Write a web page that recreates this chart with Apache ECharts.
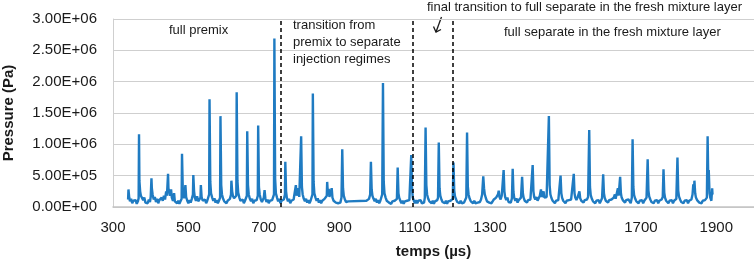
<!DOCTYPE html>
<html>
<head>
<meta charset="utf-8">
<script src="https://cdn.jsdelivr.net/npm/echarts@6/dist/echarts.min.js"></script>
<style>
  html, body { margin: 0; padding: 0; background: #fff; }
  #chart { width: 754px; height: 265px; }
</style>
</head>
<body>
<div id="chart"></div>
<script>
// pressure trace, [time (µs), pressure (kPa)]
const premix = [
  [340,120],[341,280],[343,150],[345,90],[348,130],[351,60],[354,100],[357,70],[360,110],[363,50],[366,90],[368,140],
  [369,1160],[370,420],[372,250],[374,180],[377,200],[380,110],[383,150],[386,70],[389,100],[392,60],[395,120],[398,80],
  [400,160],[402,460],[403,300],[405,200],[408,120],[411,160],[414,80],[417,130],[420,60],[423,110],[426,90],[429,150],
  [432,100],[435,180],[438,120],[441,250],[443,180],[446,530],[447,300],[449,250],[451,180],[454,280],[456,150],[459,100],
  [462,220],[464,90],[467,120],[470,60],[473,100],[476,50],[479,90],[482,130],[483,850],[485,300],[487,180],[489,140],
  [492,350],[494,160],[497,100],[500,60],[503,110],[506,70],[509,130],[512,200],[513,510],[515,250],[517,150],[520,100],
  [523,170],[526,90],[529,120],[532,150],[533,350],[535,160],[538,100],[541,70],[544,120],[547,60],[550,100],[553,80],
  [555,200],[556,1720],[558,400],[560,220],[563,150],[566,100],[569,140],[572,70],[575,110],[578,60],[581,100],[584,150],
  [585,1450],[587,350],[589,200],[592,130],[595,90],[598,120],[601,60],[604,100],[607,70],[610,130],[613,200],[614,420],
  [616,250],[618,180],[621,140],[624,110],[627,180],[628,1830],[630,420],[632,230],[635,150],[638,100],[641,70],[644,120],
  [647,60],[650,100],[653,80],[655,180],[656,1210],[658,350],[660,200],[663,130],[666,90],[669,130],[672,60],[675,100],
  [678,70],[681,110],[684,180],[685,1300],[687,320],[689,200],[692,120],[695,80],[698,110],[700,150],[702,270],[704,140],
  [707,80],[710,120],[713,60],[716,100],[719,70],[722,110],[725,80],[727,200],[728,2690],[730,450],[732,220],[735,150],
  [738,90],[741,130],[744,60]
];
const transition = [
  [747,100],[750,70],[753,120],[756,200],[757,720],[759,250],[761,150],[764,90],[767,130],[770,60],[773,100],[776,70],
  [779,120],[782,150],[785,350],[787,180],[789,150],[792,300],[794,160],[797,180],[799,1130],[801,320],[803,200],[806,130],
  [809,90],[812,130],[815,70],[818,110],[821,60],[824,100],[827,80],[829,200],[830,1810],[832,400],[834,220],[837,150],
  [840,100],[843,140],[846,70],[849,110],[852,60],[855,100],[858,80],[861,130],[864,110],[867,180],[868,400],[870,200],
  [872,290],[874,160],[877,130],[880,300],[882,150],[885,100],[888,130],[891,70],[894,100],[897,60],[900,90],[903,70],
  [906,150],[908,920],[910,300],[912,180],[915,120],[918,80],[921,60],[924,90],[972,100],[976,100],[979,130],[982,200],
  [984,720],[986,280],[988,180],[991,130],[994,90],[997,130],[1000,70],[1003,110],[1006,60],[1009,100],[1012,80],[1014,200],
  [1016,1980],[1018,400],[1020,220],[1023,150],[1026,100],[1029,130],[1032,70],[1035,100],[1038,50],[1041,90],[1044,60],
  [1047,100],[1050,70],[1053,130],[1055,630],[1057,220],[1059,150],[1062,100],[1065,60],[1068,100],[1071,50],[1074,90],
  [1077,60],[1080,100],[1083,70],[1086,110],[1089,130],[1091,830],[1093,300],[1095,150]
];
const finalTransition = [
  [1098,100],[1101,60],[1104,110],[1107,60],[1110,100],[1113,70],[1116,110],[1119,60],[1122,90],[1125,70],[1127,150],
  [1129,1270],[1131,350],[1133,200],[1136,130],[1139,90],[1142,110],[1145,60],[1148,100],[1151,50],[1154,90],[1157,60],
  [1160,110],[1162,150],[1164,1030],[1166,300],[1168,180],[1171,120],[1174,80],[1177,110],[1180,60],[1183,100],[1186,50],
  [1189,90],[1192,60],[1195,100],[1198,70]
];
const separate = [
  [1201,130],[1203,710],[1205,260],[1207,170],[1210,120],[1213,80],[1216,110],[1219,60],[1222,100],[1225,60],[1228,90],
  [1231,70],[1234,110],[1237,150],[1239,1190],[1241,330],[1243,200],[1246,130],[1249,90],[1252,120],[1255,60],[1258,100],
  [1261,60],[1264,90],[1267,70],[1270,100],[1273,80],[1276,120],[1279,200],[1282,490],[1284,300],[1286,200],[1289,140],
  [1292,90],[1295,120],[1298,70],[1301,100],[1304,60],[1307,90],[1310,120],[1313,100],[1316,150],[1319,130],[1321,200],
  [1323,260],[1325,160],[1328,120],[1331,180],[1334,150],[1336,590],[1338,250],[1340,160],[1343,110],[1346,150],[1349,80],
  [1352,110],[1355,70],[1358,140],[1360,610],[1362,240],[1364,150],[1367,100],[1370,140],[1373,70],[1376,110],[1379,80],
  [1382,150],[1385,480],[1387,220],[1389,150],[1392,100],[1395,130],[1398,70],[1401,110],[1404,80],[1407,120],[1410,150],
  [1413,670],[1415,250],[1417,160],[1420,120],[1423,160],[1426,100],[1429,140],[1432,180],[1435,280],[1437,160],[1440,200],
  [1442,250],[1444,150],[1447,120],[1450,160],[1453,140],[1456,1450],[1458,350],[1460,200],[1463,140],[1466,100],[1469,130],
  [1472,60],[1475,100],[1478,70],[1481,110],[1484,140],[1487,500],[1489,220],[1491,150],[1494,100],[1497,130],[1500,60],
  [1503,100],[1506,70],[1509,110],[1512,80],[1515,120],[1518,100],[1520,150],[1522,530],[1524,220],[1526,150],[1529,110],
  [1532,150],[1535,180],[1537,250],[1539,140],[1542,100],[1545,130],[1548,70],[1551,110],[1554,80],[1557,120],[1560,160],
  [1563,1230],[1565,320],[1567,190],[1570,130],[1573,90],[1576,120],[1579,60],[1582,100],[1585,70],[1588,110],[1591,60],
  [1594,100],[1597,140],[1600,520],[1602,220],[1604,150],[1607,100],[1610,130],[1613,70],[1616,110],[1619,80],[1622,120],
  [1625,100],[1628,150],[1631,200],[1633,130],[1636,160],[1639,300],[1641,180],[1643,200],[1645,480],[1647,220],[1649,150],
  [1652,110],[1655,140],[1658,70],[1661,110],[1664,80],[1667,120],[1670,100],[1673,60],[1676,150],[1678,1080],[1680,320],
  [1682,190],[1685,130],[1688,90],[1691,120],[1694,60],[1697,100],[1700,70],[1703,110],[1706,60],[1709,100],[1712,80],
  [1715,150],[1718,760],[1720,260],[1722,170],[1725,120],[1728,80],[1731,110],[1734,60],[1737,100],[1740,70],[1743,110],
  [1746,60],[1749,100],[1752,80],[1755,120],[1758,160],[1760,600],[1762,230],[1764,150],[1767,100],[1770,130],[1773,60],
  [1776,100],[1779,70],[1782,110],[1785,60],[1788,100],[1791,80],[1794,130],[1797,790],[1799,260],[1801,170],[1804,120],
  [1807,80],[1810,110],[1813,60],[1816,100],[1819,70],[1822,110],[1825,60],[1828,100],[1831,80],[1834,120],[1837,200],
  [1839,360],[1841,250],[1842,420],[1844,220],[1846,150],[1849,110],[1852,140],[1855,70],[1858,100],[1861,60],[1864,100],
  [1867,70],[1870,110],[1873,80],[1875,150],[1877,1130],[1879,300],[1880,590],[1882,220],[1884,150],[1887,100],[1889,300],
  [1890,200]
];

// regime boundaries (µs), drawn as dashed lines
const regimeBounds = [745, 1096, 1200];
const xLabels = [300, 500, 700, 900, 1100, 1300, 1500, 1700, 1900];

const FONT = '"Liberation Sans", Arial, sans-serif';

const sciLabel = v => {
  let parts = v.toExponential(2).split('e');
  let exp = parts[1];
  return parts[0] + 'E' + exp[0] + exp.slice(1).padStart(2, '0');
};

let trace = premix.concat(transition, finalTransition, separate)
  .map(d => [d[0], d[1] * 1000]);

let chart = echarts.init(document.getElementById('chart'), null, {renderer: 'canvas'});

let option = {
  animation: false,
  grid: {left: 113, right: 0, top: 19, bottom: 58, outerBoundsMode: 'none', containLabel: false},
  xAxis: {
    type: 'value',
    min: 300,
    max: 2000,
    interval: 100,
    name: 'temps (µs)',
    nameLocation: 'middle',
    nameGap: 37,
    nameTextStyle: {fontFamily: FONT, fontSize: 15, fontWeight: 'bold', color: '#1a1a1a'},
    axisLine: {show: true, lineStyle: {color: '#c4c4c4', width: 1.5}},
    axisTick: {show: false},
    splitLine: {show: false},
    axisLabel: {
      margin: 13,
      fontFamily: FONT,
      fontSize: 15,
      color: '#1a1a1a',
      showMaxLabel: false,
      formatter: v => xLabels.indexOf(v) >= 0 ? String(v) : ''
    }
  },
  yAxis: {
    type: 'value',
    min: 0,
    max: 3000000,
    interval: 500000,
    name: 'Pressure (Pa)',
    nameLocation: 'middle',
    nameGap: 97,
    nameTextStyle: {fontFamily: FONT, fontSize: 15, fontWeight: 'bold', color: '#1a1a1a'},
    axisLine: {show: true, lineStyle: {color: '#cfcfcf', width: 1}},
    axisTick: {show: false},
    splitLine: {lineStyle: {color: '#cfcfcf', width: 1.2}},
    axisLabel: {
      margin: 16,
      fontFamily: FONT,
      fontSize: 15,
      color: '#1a1a1a',
      formatter: sciLabel
    }
  },
  series: [{
    type: 'line',
    data: trace,
    showSymbol: false,
    symbol: 'none',
    sampling: null,
    lineStyle: {color: '#1f7bc2', width: 2.4},
    itemStyle: {color: '#1f7bc2'},
    markLine: {
      silent: true,
      symbol: 'none',
      label: {show: false},
      lineStyle: {color: '#000', type: [4, 3], width: 1.5},
      data: regimeBounds.map(x => ({xAxis: x}))
    }
  }],
  graphic: [
    {type: 'text', left: 169, top: 24, style: {text: 'full premix', font: '13px ' + FONT, fill: '#1a1a1a'}},
    {type: 'text', left: 293, top: 17, style: {
      text: 'transition from\npremix to separate\ninjection regimes',
      font: '13px ' + FONT, lineHeight: 17, fill: '#1a1a1a'}},
    {type: 'text', left: 427, top: 1, style: {
      text: 'final transition to full separate in the fresh mixture layer',
      font: '13px ' + FONT, fill: '#1a1a1a'}},
    {type: 'text', left: 504, top: 26, style: {
      text: 'full separate in the fresh mixture layer', font: '13px ' + FONT, fill: '#1a1a1a'}},
    {type: 'line', shape: {x1: 441.5, y1: 17, x2: 436, y2: 32}, style: {stroke: '#1a1a1a', lineWidth: 1.3}},
    {type: 'polyline', shape: {points: [[433.5, 26.5], [436, 32], [441, 29.5]]}, style: {stroke: '#1a1a1a', lineWidth: 1.3, fill: null}}
  ]
};

chart.setOption(option);
</script>
</body>
</html>
